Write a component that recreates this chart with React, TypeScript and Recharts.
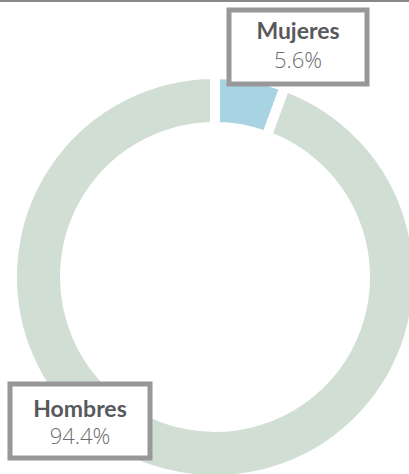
import { PieChart, Pie, Cell } from "recharts";

const categories = ["Mujeres", "Hombres"];
const values = [5.6, 94.4];
const colors = ["#a7d3e3", "#d0ded4"];

// label box centres relative to the pie centre, plus text baselines inside the box
const labelOffsets = [
  { dx: 83, dy: -230, w: 138, nameY: -8, pctY: 21 },
  { dx: -135, dy: 144, w: 140, nameY: -4, pctY: 23 },
];

const data = categories.map((name, i) => ({ name, value: values[i] }));

const BOX_H = 74;

function renderLabel(props: any) {
  const { cx, cy, index, name, value } = props;
  const off = labelOffsets[index];
  const x = cx + off.dx;
  const y = cy + off.dy;
  return (
    <g key={`lbl-${index}`}>
      <rect
        x={x - off.w / 2}
        y={y - BOX_H / 2}
        width={off.w}
        height={BOX_H}
        fill="#ffffff"
        stroke="#98989b"
        strokeWidth={5}
      />
      <text
        x={x}
        y={y + off.nameY}
        textAnchor="middle"
        fontFamily="Lato, 'Open Sans', sans-serif"
        fontWeight={700}
        fontSize={23}
        fill="#58595b"
      >
        {name}
      </text>
      <text
        x={x}
        y={y + off.pctY}
        textAnchor="middle"
        fontFamily="'Open Sans', Lato, sans-serif"
        fontWeight={300}
        fontSize={22}
        fill="#6d6e71"
      >
        {value.toFixed(1)}%
      </text>
    </g>
  );
}

export default function App() {
  return (
    <div
      style={{
        position: "absolute",
        left: 0,
        top: 0,
        width: 409,
        height: 474,
        background: "#ffffff",
        overflow: "hidden",
      }}
    >
      <div
        style={{
          position: "absolute",
          left: 0,
          top: 0,
          width: 409,
          height: 2,
          background: "#8a8a8c",
          zIndex: 1,
        }}
      />
      <PieChart width={409} height={474} margin={{ top: 0, right: 0, bottom: 0, left: 0 }}>
        <Pie
          data={data}
          dataKey="value"
          nameKey="name"
          cx={215}
          cy={277}
          innerRadius={150}
          outerRadius={203}
          startAngle={90}
          endAngle={-270}
          stroke="#ffffff"
          strokeWidth={10}
          label={renderLabel}
          labelLine={false}
          isAnimationActive={false}
        >
          {data.map((entry, i) => (
            <Cell key={entry.name} fill={colors[i]} />
          ))}
        </Pie>
      </PieChart>
    </div>
  );
}
